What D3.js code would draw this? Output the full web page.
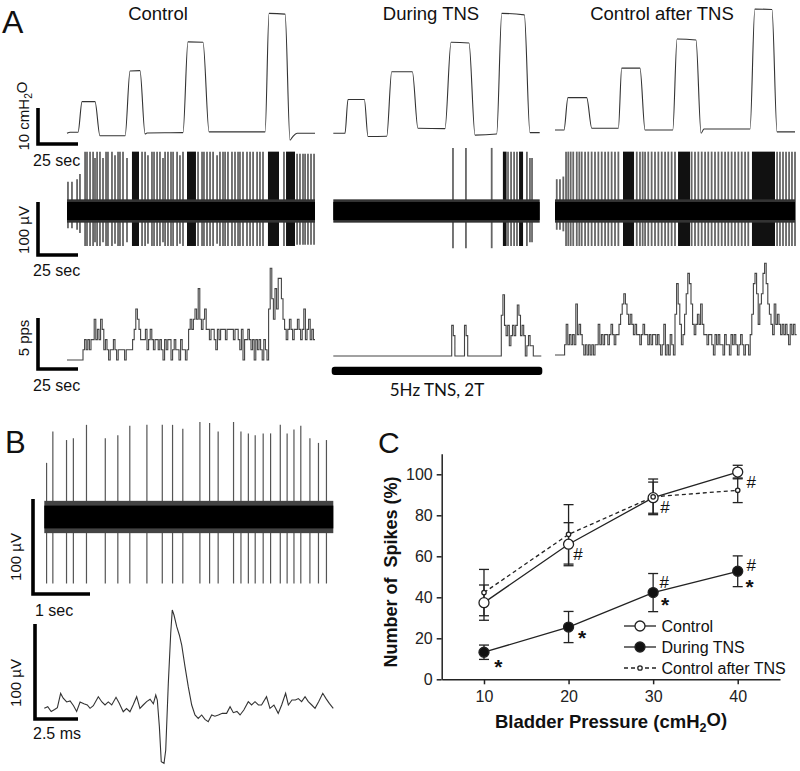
<!DOCTYPE html>
<html><head><meta charset="utf-8">
<script src="https://cdn.jsdelivr.net/npm/d3@7"></script>
<style>body{margin:0;background:#fff}svg{display:block}</style>
</head><body>
<svg id="c" width="800" height="771"></svg>
<script>
// ================= DATA =================
// Panel C
const pressureLevels = [10, 20, 30, 40];
const controlMean = [37.4, 65.9, 88.6, 101.1];
const controlSem  = [8.6, 10.5, 7.6, 3.3];
const tnsMean     = [13.2, 25.5, 42.3, 52.7];
const tnsSem      = [3.5, 7.6, 9.3, 7.5];
const afterMean   = [42.3, 70.7, 89.0, 92.2];
const afterSem    = [11.3, 14.5, 8.7, 6.0];
const yTickValues = [0, 20, 40, 60, 80, 100];
const xTickValues = [10, 20, 30, 40];
const seriesNames = ["Control", "During TNS", "Control after TNS"];
const markSymbols = ["#", "#", "#", "#", "#", "*", "*", "*", "*"];
const markX = [21.1, 31.4, 41.6, 31.3, 41.6, 11.7, 21.6, 31.4, 41.4];
const markY = [61.1, 83.9, 96.4, 47.6, 55.8, 8.6, 22.4, 38.7, 47.6];

// Panel A titles
const conditionTitles = ["Control", "During TNS", "Control after TNS"];
// Panel A bladder pressure traces [sec, cmH2O]
const ctrlPressure = [[0,0],[2,0.3],[6.9,0.3],[9.4,8.8],[17.5,8.8],[20.6,-0.7],[36.3,-0.7],[39.4,17.3],[45.6,17.4],[48.8,-0.2],[50,0.1],[72.5,0.2],[75.6,25.4],[85,25.3],[88.8,0.4],[123.8,0.4],[126.3,33.3],[136.3,33.1],[139.4,-1.9],[141,-1],[143.8,0],[155,0]];
const tnsPressure = [[0,0],[7.3,0],[9.2,9.4],[19.4,9.4],[21.7,-0.9],[33.4,-0.8],[36.5,17.1],[49.4,17.1],[52.9,1.4],[69.8,1.3],[73.6,25.3],[84.8,25.1],[88.6,-0.5],[102.1,-0.2],[105.3,33.3],[119.4,32.9],[122.9,0.2],[129,0.2]];
const afterPressure = [[0,0.9],[5.6,0.9],[8.1,9.9],[19.8,9.9],[23,1.4],[39.6,1.4],[41.7,18.1],[53.1,18.1],[56.3,0.9],[73.6,0.9],[76.3,26.2],[88.1,25.9],[91.3,0],[93.1,1.2],[121.9,1.2],[124.9,34.5],[135.6,34.4],[138.8,0.4],[150,0.4]];
// Panel A nerve recordings: [sec, spike up amplitude µV]; dense bursts [start, end] sec
const ctrlSpikes = [[0.6,55],[3.1,55],[6.3,60],[8.1,70],[11.3,112],[12.5,112],[14.4,112],[16.3,112],[17.5,100],[18.8,112],[20.6,112],[22.5,100],[24.4,112],[25.6,112],[28.1,112],[30,105],[31.9,112],[33.1,112],[35,112],[37.5,100],[46.9,112],[48.8,112],[50.6,105],[53.1,112],[54.4,112],[56.3,112],[58.1,112],[60,100],[61.3,112],[63.1,112],[65,112],[66.3,112],[68.8,112],[70.6,105],[72.5,112],[81.9,112],[84.4,112],[85.6,112],[87.5,112],[89.4,112],[91.3,112],[93.8,105],[95.6,112],[97.5,112],[98.8,112],[100.6,112],[103.1,112],[105,112],[106.9,112],[108.1,112],[110,112],[112.5,112],[114.4,112],[116.3,112],[118.8,112],[120.6,112],[122.5,112],[135.6,112],[143.8,108],[145.6,108],[147.5,108],[148.8,108],[150.6,108],[152.5,108],[154.4,108]];
const ctrlBursts = [[40.6,45],[75,80.6],[125.6,132.5],[136.9,142.5]];
const tnsSpikes = [[74.8,119],[82.9,119],[99,119],[109.2,112],[111.1,112],[113,112],[114.8,112],[121,112],[122.9,100],[124.2,100]];
const tnsBursts = [[106,108.3],[116.1,118.6]];
const afterSpikes = [[1.1,60],[3.1,60],[5.2,65],[6.9,112],[8.3,112],[9.8,112],[11.4,112],[13.6,112],[15.2,112],[16.7,112],[18.8,112],[20.8,112],[22.9,112],[25,112],[27.1,112],[29.2,112],[31.3,112],[33.3,112],[35.4,112],[37.5,112],[39.6,112],[51.1,112],[53.1,112],[54.8,112],[56.3,112],[58.3,112],[60.4,112],[62.5,112],[64.6,112],[66.7,112],[68.8,112],[70.8,112],[72.9,112],[75,112],[85.4,112],[87.5,112],[89.6,112],[91.7,112],[93.8,112],[95.8,112],[97.9,112],[100,112],[102.1,112],[104.2,112],[106.3,112],[108.3,112],[110.4,112],[112.5,112],[114.6,112],[116.7,112],[118.8,112],[120.8,112],[138.8,112],[140.6,112],[142.5,112],[144.4,112],[146.3,112],[148.1,112],[150,112]];
const afterBursts = [[42.5,49.4],[76.9,84.4],[123.1,137.5]];
// Panel A firing rate, pulses per second in 1-s bins
const ctrlRate = [0,0,0,0,0,0,0,0,0,0, 1,2,1,2,1,2, 2,4,2,3,2,4,3, 1,2,1,0,1,1,2,1,0,1,1,1,1,0,1,1,1,1, 2,3,5,4,3,2, 2,2,3,1,2,3,2,1,2,2,1,2,1,0,2,1,2,2,0,1,2,1,1,0,2,1,1,0,1, 3,4,3,4,5,4,7,4,3,4,5,3, 3,2,3,3,2,1,3,2,3,3,3,2,3,3,3,3,2,3,3,2,1,3,0,2,2,3,2,1,2,0,2,1,2, 1,0,2,1,0, 5,9,6,4,7,5,8,8,6,4, 3,2,3,4,3,2,3,3,4,3,2,3,5,2,3,4,2,3,2];
const tnsRateDuration = 130;
const tnsRateBins = [[74,3],[75,2],[82,3],[83,2],[105,4],[106,6],[107,3],[108,2],[109,3],[110,1],[111,2],[112,3],[113,2],[114,3],[115,5],[116,4],[117,2],[118,3],[119,2],[121,1],[122,2],[123,1],[124,1]];
const afterRate = [0,0,0,0,0,0, 1,3,1,2,1,2,1, 5,2,3,2,1, 0,1,0,1,0,1,0,1,1, 3,1,2,1,2,2,1,2,3,2,1,2, 2,3,4,5,6,5,4,3,4,3, 2,3,2,2,1,2,3,2,2,1,2,1,2,2,1,2,1, 0,1,3,0,1,0,2,1,0, 4,7,5,3,1, 2,4,6,8,7,5,3, 2,3,4,3,5,3,2, 2,1,2,2,1,0,2,1,2,1,1,0,2,1,1,0,2,1,2,1,0,1,2,1,0,1,1,0,2, 4,7,8,6,3,5,6,8,9,7,5,4, 3,2,5,3,4,3,2,3,2,3,2,1,3,2,3,2];
// Panel B: 5-s recording spikes [sec, up amplitude µV]
const bSpikes = [[0.04,57],[0.15,90],[0.39,81],[0.51,83],[0.74,97],[1.07,83],[1.29,86],[1.50,96],[1.80,97],[2.07,97],[2.25,97],[2.43,93],[2.73,100],[2.90,99],[3.05,90],[3.32,100],[3.45,90],[3.58,88],[3.70,86],[3.84,88],[3.97,88],[4.14,97],[4.26,88],[4.38,92],[4.50,96],[4.66,83],[4.81,78],[4.95,81]];
const bDuration = 5.07;
// Panel B: averaged single unit waveform [ms, µV]
const waveform = [[0,-1.7],[0.2,0],[0.4,-5],[0.6,-3],[0.76,-1],[0.95,14],[1.1,9],[1.3,5],[1.5,6],[1.7,1],[1.88,-5],[2.08,5],[2.3,3],[2.5,1.8],[2.66,-1.7],[2.85,1],[3.14,10.5],[3.35,5],[3.53,1.8],[3.72,5],[3.92,1.8],[4.17,9.9],[4.35,4],[4.59,-5.3],[4.78,-2],[4.98,-5.3],[5.17,2],[5.37,10.5],[5.56,-1.7],[5.75,1.8],[5.95,5.3],[6.15,7.8],[6.34,3],[6.48,12.3],[6.57,7],[6.69,-21],[6.80,-57.9],[6.96,-59.6],[7.06,-45.6],[7.21,24.6],[7.35,77.3],[7.44,101.8],[7.54,96.5],[7.70,84.2],[7.85,75.5],[7.99,64.9],[8.18,42.1],[8.37,21.1],[8.57,1.8],[8.76,-8.7],[8.95,-12.3],[9.15,-8.7],[9.34,-13.3],[9.53,-15.8],[9.73,-8.7],[9.92,-10],[10.12,-8.7],[10.35,-7],[10.6,-7],[10.8,0],[10.99,-6.3],[11.2,-5],[11.38,-8.7],[11.6,-3.5],[11.86,5.3],[12.05,1.8],[12.25,5.3],[12.45,1.8],[12.63,1.8],[12.92,10.5],[13.12,-1.7],[13.35,1.8],[13.60,-7],[13.8,1.8],[14.03,14.1],[14.19,1.8],[14.4,7],[14.6,7],[14.77,8.5],[14.96,5.3],[15.16,10.5],[15.35,5.3],[15.55,1.8],[15.74,-1.7],[15.95,5.3],[16.19,14.1],[16.38,8.5],[16.57,3.5],[16.8,-1.7]];

// ================= DRAWING =================
const FONT = "Arial, 'Liberation Sans', Helvetica, sans-serif";
const svg = d3.select("#c").attr("font-family", FONT);

function txt(g, s, x, y, opts = {}) {
  const t = g.append("text").attr("x", x).attr("y", y)
    .attr("font-size", opts.size || 16).attr("fill", opts.fill || "#111")
    .attr("text-anchor", opts.anchor || "start")
    .attr("font-weight", opts.weight || "normal");
  if (opts.family) t.attr("font-family", opts.family);
  if (opts.rot) t.attr("transform", `rotate(-90,${x},${y})`);
  t.text(s);
  return t;
}
function txtSub(g, a, sub, b, x, y, opts = {}) {
  const t = g.append("text").attr("x", x).attr("y", y)
    .attr("font-size", opts.size || 16).attr("fill", "#111")
    .attr("text-anchor", opts.anchor || "start")
    .attr("font-weight", opts.weight || "normal");
  if (opts.rot) t.attr("transform", `rotate(-90,${x},${y})`);
  t.append("tspan").text(a);
  t.append("tspan").attr("font-size", "0.68em").attr("dy", "0.3em").text(sub);
  t.append("tspan").attr("dy", "-0.3em").text(b);
  return t;
}
function scaleBar(g, x0, yTop, yBot, xRight) {
  g.append("path").attr("d", `M${x0},${yTop}V${yBot}H${xRight}`)
    .attr("fill", "none").attr("stroke", "#000").attr("stroke-width", 3.6)
    .attr("stroke-linejoin", "miter");
}

// ---------- Panel labels
txt(svg, "A", 2, 33, {size: 32});
txt(svg, "B", 5, 453, {size: 31});
txt(svg, "C", 378, 453, {size: 30});

// ---------- Panel A
const gA = svg.append("g");
const pxPerSec = 1.6;
const traceX0 = [67, 333.3, 555];
const titleX = [158, 431, 662];
const pressScale = d3.scaleLinear().domain([0, 10]).range([133.3, 97.3]);
const spikeCenter = 211, spikeScale = 0.53;
const rateBase = [360, 356, 355], ratePx = 10.2;

conditionTitles.forEach((s, i) => txt(gA, s, titleX[i], 20, {size: 18.5, anchor: "middle"}));

const pressures = [ctrlPressure, tnsPressure, afterPressure];
const spikesAll = [ctrlSpikes, tnsSpikes, afterSpikes];
const burstsAll = [ctrlBursts, tnsBursts, afterBursts];
const durations = [155, 129, 150];

const tnsRate = new Array(tnsRateDuration).fill(0);
tnsRateBins.forEach(([i, c]) => { tnsRate[i] = c; });
const rates = [ctrlRate, tnsRate, afterRate];

for (let i = 0; i < 3; i++) {
  const xs = d3.scaleLinear().domain([0, 1]).range([traceX0[i], traceX0[i] + pxPerSec]);
  // pressure
  gA.append("path").datum(pressures[i])
    .attr("d", d3.line().x(d => xs(d[0])).y(d => pressScale(d[1])).curve(d3.curveMonotoneX))
    .attr("fill", "none").attr("stroke", "#333").attr("stroke-width", 1.1);
  // nerve recording
  const ys = v => spikeCenter - v * spikeScale;
  const gS = gA.append("g");
  gS.selectAll("line.sp").data(spikesAll[i]).join("line")
    .attr("x1", d => xs(d[0])).attr("x2", d => xs(d[0]))
    .attr("y1", d => ys(d[1])).attr("y2", d => ys(-d[1] * 0.59))
    .attr("stroke", "#666").attr("stroke-width", 1.8);
  gS.selectAll("rect.bu").data(burstsAll[i]).join("rect")
    .attr("x", d => xs(d[0])).attr("width", d => xs(d[1]) - xs(d[0]))
    .attr("y", ys(112)).attr("height", ys(-66) - ys(112)).attr("fill", "#111");
  gS.append("rect").attr("x", xs(0)).attr("width", xs(durations[i]) - xs(0))
    .attr("y", ys(22)).attr("height", ys(-22) - ys(22)).attr("fill", "#333");
  gS.append("rect").attr("x", xs(0)).attr("width", xs(durations[i]) - xs(0))
    .attr("y", ys(17)).attr("height", ys(-17) - ys(17)).attr("fill", "#000");
  // rate
  const r = rates[i];
  const pts = r.map((c, k) => [k, c]).concat([[r.length, r[r.length - 1]]]);
  gA.append("path").datum(pts)
    .attr("d", d3.line().x(d => xs(d[0])).y(d => rateBase[i] - d[1] * ratePx).curve(d3.curveStepAfter))
    .attr("fill", "none").attr("stroke", "#444").attr("stroke-width", 1.1);
}

// scale bars panel A
scaleBar(gA, 38, 144 - 10 * 3.6, 144, 38 + 25 * pxPerSec);
txtSub(gA, "10 cmH", "2", "O", 28.5, 116, {size: 15, rot: true, anchor: "middle"});
txt(gA, "25 sec", 33, 166);
scaleBar(gA, 38, 255 - 100 * spikeScale, 255, 38 + 25 * pxPerSec);
txt(gA, "100 µV", 28.5, 230, {size: 15, rot: true, anchor: "middle"});
txt(gA, "25 sec", 33, 276);
scaleBar(gA, 38, 369 - 5 * ratePx, 369, 38 + 25 * pxPerSec);
txt(gA, "5 pps", 28.5, 338, {size: 15, rot: true, anchor: "middle"});
txt(gA, "25 sec", 33, 391);
// TNS bar
gA.append("rect").attr("x", 331.7).attr("y", 366.7).attr("width", 210.6).attr("height", 8.4)
  .attr("rx", 3).attr("fill", "#000");
txt(gA, "5Hz TNS, 2T", 437, 396, {size: 17, anchor: "middle", family: "Lato, 'Open Sans', sans-serif"});

// ---------- Panel B
const gB = svg.append("g");
const bx = d3.scaleLinear().domain([0, 1]).range([44.3, 44.3 + 57]);
const by = v => 517 - v * 0.95;
gB.selectAll("line.bs").data(bSpikes).join("line")
  .attr("x1", d => bx(d[0])).attr("x2", d => bx(d[0]))
  .attr("y1", d => by(d[1])).attr("y2", by(-70))
  .attr("stroke", "#555").attr("stroke-width", 1.2);
gB.append("rect").attr("x", bx(0)).attr("width", bx(bDuration) - bx(0))
  .attr("y", by(17)).attr("height", by(-17) - by(17)).attr("fill", "#444");
gB.append("rect").attr("x", bx(0)).attr("width", bx(bDuration) - bx(0))
  .attr("y", by(12)).attr("height", by(-12) - by(12)).attr("fill", "#000");
scaleBar(gB, 33, 594 - 100 * 0.95, 594, 33 + 57);
txt(gB, "100 µV", 21, 557, {size: 15, rot: true, anchor: "middle"});
txt(gB, "1 sec", 35, 616);

const wx = d3.scaleLinear().domain([0, 2.5]).range([44.3, 44.3 + 43]);
const wy = v => 706.7 - v * 0.95;
gB.append("path").datum(waveform)
  .attr("d", d3.line().x(d => wx(d[0])).y(d => wy(d[1])))
  .attr("fill", "none").attr("stroke", "#333").attr("stroke-width", 1.1);
scaleBar(gB, 35, 719 - 100 * 0.95, 719, 35 + 43);
txt(gB, "100 µV", 21, 683, {size: 15, rot: true, anchor: "middle"});
txt(gB, "2.5 ms", 33, 739);

// ---------- Panel C
const gC = svg.append("g");
const x = d3.scaleLinear().domain([5, 45]).range([441.7, 780]);
const y = d3.scaleLinear().domain([0, 110]).range([679.3, 453.8]);
const yAx = gC.append("g").attr("transform", `translate(${x(5)},0)`)
  .call(d3.axisLeft(y).tickValues(yTickValues).tickSize(5).tickSizeOuter(0).tickPadding(4));
const xAx = gC.append("g").attr("transform", `translate(0,${y(0)})`)
  .call(d3.axisBottom(x).tickValues(xTickValues).tickSize(5).tickSizeOuter(0).tickPadding(6));
[yAx, xAx].forEach(a => {
  a.selectAll("path,line").attr("stroke", "#222").attr("stroke-width", 1.5);
  a.selectAll("text").attr("font-size", 16).attr("font-family", FONT).attr("fill", "#222");
});

const series = [
  {name: seriesNames[0], mean: controlMean, err: controlSem, dash: null, r: 5, fill: "#fff"},
  {name: seriesNames[1], mean: tnsMean, err: tnsSem, dash: null, r: 5, fill: "#111"},
  {name: seriesNames[2], mean: afterMean, err: afterSem, dash: "4,3", r: 2.2, fill: "#fff"}
];
const line = d3.line().x((d, i) => x(pressureLevels[i])).y(d => y(d));
series.forEach(s => {
  gC.append("path").datum(s.mean).attr("d", line).attr("fill", "none")
    .attr("stroke", "#222").attr("stroke-width", 1.3).attr("stroke-dasharray", s.dash);
});
series.forEach(s => {
  const g = gC.append("g").attr("stroke", "#222").attr("stroke-width", 1.3);
  s.mean.forEach((m, i) => {
    const px = x(pressureLevels[i]);
    g.append("line").attr("x1", px).attr("x2", px).attr("y1", y(m - s.err[i])).attr("y2", y(m + s.err[i]));
    g.append("line").attr("x1", px - 5).attr("x2", px + 5).attr("y1", y(m - s.err[i])).attr("y2", y(m - s.err[i]));
    g.append("line").attr("x1", px - 5).attr("x2", px + 5).attr("y1", y(m + s.err[i])).attr("y2", y(m + s.err[i]));
  });
});
series.forEach(s => {
  gC.selectAll(null).data(s.mean).join("circle")
    .attr("cx", (d, i) => x(pressureLevels[i])).attr("cy", d => y(d)).attr("r", s.r)
    .attr("fill", s.fill).attr("stroke", "#222").attr("stroke-width", 1.3);
});
// significance marks
markSymbols.forEach((s, i) => {
  const star = s === "*";
  txt(gC, s, x(markX[i]), y(markY[i]) + (star ? 12 : 6), {size: star ? 21 : 17, anchor: "middle", weight: star ? "bold" : "normal"});
});
// legend
const legY = [626, 647, 668];
series.forEach((s, i) => {
  gC.append("line").attr("x1", 624).attr("x2", 656).attr("y1", legY[i]).attr("y2", legY[i])
    .attr("stroke", "#222").attr("stroke-width", 1.3).attr("stroke-dasharray", s.dash);
  gC.append("circle").attr("cx", 640).attr("cy", legY[i]).attr("r", s.r)
    .attr("fill", s.fill).attr("stroke", "#222").attr("stroke-width", 1.3);
  txt(gC, s.name, 661.5, legY[i] + 5.8, {size: 16});
});
// axis titles
txtSub(gC, "Bladder Pressure (cmH", "2", "O)", 611, 728, {size: 18.5, weight: "bold", anchor: "middle"});
txt(gC, "Number of  Spikes (%)", 396.5, 572, {size: 18, weight: "bold", anchor: "middle", rot: true})
  .style("white-space", "pre");
</script>
</body></html>
